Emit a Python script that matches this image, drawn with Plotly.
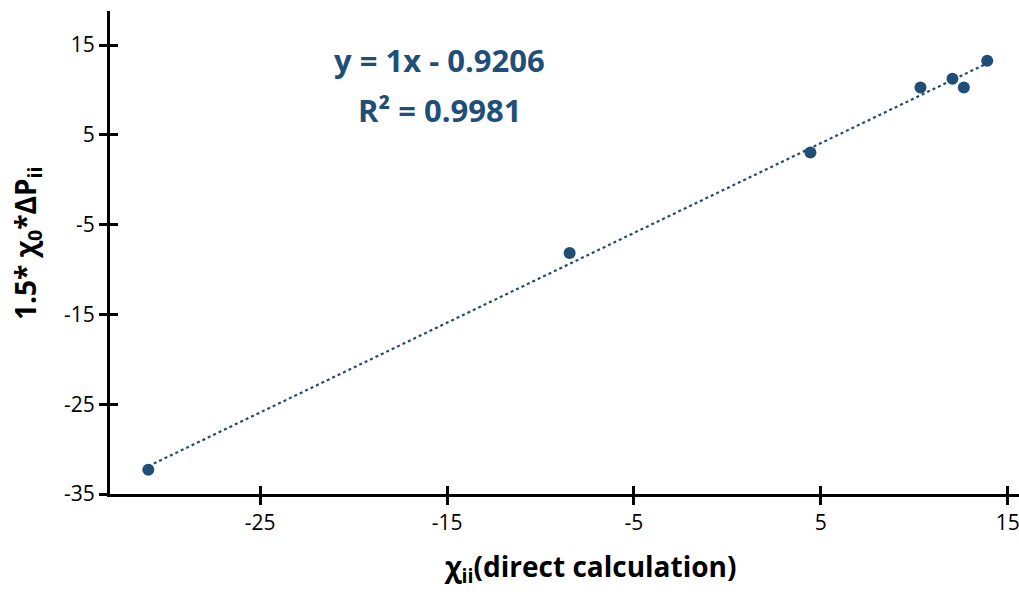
import plotly.graph_objects as go

# Measured values: direct calculation vs. 1.5*chi0*dP
chi_direct = [-30.98, -8.44, 4.44, 10.33, 12.04, 12.65, 13.90]
chi_dp = [-32.30, -8.16, 3.04, 10.28, 11.25, 10.28, 13.25]

# Linear trend line parameters (as reported on the chart)
slope = 1.0
intercept = -0.9206
r_squared = 0.9981

x_ticks = [-25, -15, -5, 5, 15]
y_ticks = [-35, -25, -15, -5, 5, 15]
x_range = [-33.03, 15.6]
y_range = [-35, 18.8]

BLUE = "#1F4E79"
FONT = "Open Sans"

W, H = 1019, 596
ML, MR, MT, MB = 110, 0, 11, 102

trend_x = [min(chi_direct), max(chi_direct)]
trend_y = [slope * v + intercept for v in trend_x]

fig = go.Figure()
fig.add_trace(go.Scatter(
    x=trend_x, y=trend_y, mode="lines",
    line=dict(color=BLUE, width=2.2, dash="dot"),
    hoverinfo="skip", showlegend=False,
))
fig.add_trace(go.Scatter(
    x=chi_direct, y=chi_dp, mode="markers",
    marker=dict(color=BLUE, size=12),
    showlegend=False,
))
# empty trace on the overlay axes so the inward half of the ticks is drawn
fig.add_trace(go.Scatter(x=[None], y=[None], xaxis="x2", yaxis="y2",
                         showlegend=False, hoverinfo="skip"))

axis_common = dict(
    showgrid=False, zeroline=False, showline=True,
    linecolor="black", linewidth=3,
    ticks="outside", ticklen=8, tickwidth=3, tickcolor="black",
    ticklabeloverflow="allow",
)
tick_font = dict(size=21, family=FONT, color="black")
title_font = dict(size=28, family=FONT, color="black")

fig.update_layout(
    width=W, height=H,
    margin=dict(l=ML, r=MR, t=MT, b=MB),
    paper_bgcolor="white", plot_bgcolor="white",
    font=dict(family=FONT, color="black"),
    xaxis=dict(
        range=x_range, tickvals=x_ticks,
        ticktext=[str(v) for v in x_ticks],
        tickfont=tick_font,
        **axis_common,
    ),
    yaxis=dict(
        range=y_range, tickvals=y_ticks,
        ticktext=[str(v) for v in y_ticks],
        tickfont=tick_font,
        **axis_common,
    ),
    xaxis2=dict(range=x_range, tickvals=x_ticks, overlaying="x", anchor="y2",
                showticklabels=False, showgrid=False, zeroline=False,
                showline=False, ticks="inside", ticklen=8, tickwidth=3,
                tickcolor="black"),
    yaxis2=dict(range=y_range, tickvals=y_ticks, overlaying="y", anchor="x2",
                showticklabels=False, showgrid=False, zeroline=False,
                showline=False, ticks="inside", ticklen=8, tickwidth=3,
                tickcolor="black"),
)

plot_w = W - ML - MR
plot_h = H - MT - MB


def px_to_paper(px, py):
    return (px - ML) / plot_w, 1 - (py - MT) / plot_h


# axis titles
tx, ty = px_to_paper(590, 568)
fig.add_annotation(x=tx, y=ty, xref="paper", yref="paper", showarrow=False,
                   xanchor="center", yanchor="middle",
                   text="<b>χ<sub>ii</sub>(direct calculation)</b>",
                   font=title_font)
tx, ty = px_to_paper(27, 243)
fig.add_annotation(x=tx, y=ty, xref="paper", yref="paper", showarrow=False,
                   xanchor="center", yanchor="middle", textangle=-90,
                   text="<b>1.5* χ<sub>0</sub>*ΔP<sub>ii</sub></b>",
                   font=title_font)

# trend line equation
sign = "-" if intercept < 0 else "+"
eq_lines = [
    (f"<b>y = {slope:g}x {sign} {abs(intercept):.4f}</b>", 439, 60),
    (f"<b>R² = {r_squared:.4f}</b>", 440, 110),
]
for text, px, py in eq_lines:
    ex, ey = px_to_paper(px, py)
    fig.add_annotation(
        x=ex, y=ey, xref="paper", yref="paper", showarrow=False,
        xanchor="center", yanchor="middle",
        text=text, font=dict(size=31, family=FONT, color=BLUE),
    )

fig.write_html("out.html")
